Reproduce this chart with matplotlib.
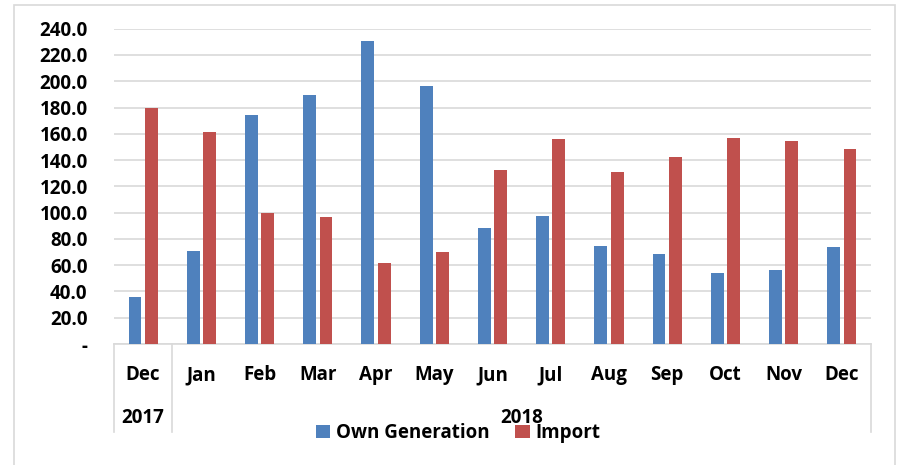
import matplotlib
matplotlib.use("Agg")
import matplotlib.pyplot as plt
import numpy as np
from matplotlib.patches import Rectangle

months = ['Dec', 'Jan', 'Feb', 'Mar', 'Apr', 'May', 'Jun', 'Jul', 'Aug', 'Sep', 'Oct', 'Nov', 'Dec']
years = ['2017', '2018']
year_span = [1, 12]  # number of months in each year group
own_gen = [35.5, 70.5, 174.1, 189.9, 230.4, 196.7, 88.0, 97.3, 74.8, 68.2, 53.8, 56.3, 73.5]
imports = [180.0, 161.2, 99.8, 96.6, 61.4, 70.0, 132.6, 156.4, 130.8, 142.0, 156.7, 154.4, 148.3]
yticks = [0, 20, 40, 60, 80, 100, 120, 140, 160, 180, 200, 220, 240]

plt.rcParams['font.family'] = ['Open Sans', 'DejaVu Sans']
plt.rcParams['font.weight'] = 'bold'
fs = 13.5

fig = plt.figure(figsize=(8.97, 4.65), dpi=100)
fig.patches.append(Rectangle((14 / 897, -0.1), (895 - 14) / 897, 1.1 - 5 / 465,
                             transform=fig.transFigure, fill=False,
                             edgecolor='#d9d9d9', linewidth=1.2))

ax = fig.add_axes([114 / 897, 1 - 344 / 465, (871 - 114) / 897, (344 - 28.7) / 465])

x = np.arange(len(months))
w = 0.22
ax.bar(x - 0.14, own_gen, w, color='#4F81BD', label='Own Generation', zorder=3)
ax.bar(x + 0.14, imports, w, color='#C0504D', label='Import', zorder=3)

ax.set_xlim(-0.5, len(months) - 0.5)
ax.set_ylim(0, 240)
ax.set_yticks(yticks)
ax.set_yticklabels(['-' if v == 0 else f'{v:.1f}' for v in yticks], fontsize=fs, fontweight='bold')
ax.tick_params(axis='y', length=0, pad=19)
ax.tick_params(axis='x', length=0)
ax.set_xticks([])
ax.grid(axis='y', color='#d9d9d9', linewidth=1.2, zorder=0)
for s in ['top', 'right', 'left']:
    ax.spines[s].set_visible(False)
ax.spines['bottom'].set_color('#d9d9d9')
ax.spines['bottom'].set_linewidth(1.2)

# category table below axis
trans = ax.get_xaxis_transform()
y_month = -(375 - 344) / (344 - 28.7)
y_year = -(418 - 344) / (344 - 28.7)
y_line = -(432 - 344) / (344 - 28.7)
for i, m in enumerate(months):
    ax.text(i, y_month, m, transform=trans, ha='center', va='center', fontsize=fs, fontweight='bold')
start = 0
bounds = [-0.5]
for yr, n in zip(years, year_span):
    ax.text(start + (n - 1) / 2, y_year, yr, transform=trans, ha='center', va='center',
            fontsize=fs, fontweight='bold')
    start += n
    bounds.append(start - 0.5)
for b in bounds:
    ax.plot([b, b], [0, y_line], transform=trans, color='#d9d9d9', linewidth=1.2, clip_on=False)

fig.legend(loc='center', bbox_to_anchor=(458 / 897, 1 - 433 / 465), ncol=2, frameon=False,
           prop={'size': fs, 'weight': 'bold'}, handlelength=0.75, handleheight=0.75,
           handletextpad=0.3, columnspacing=1.4)

fig.savefig('out.png', dpi=100)
